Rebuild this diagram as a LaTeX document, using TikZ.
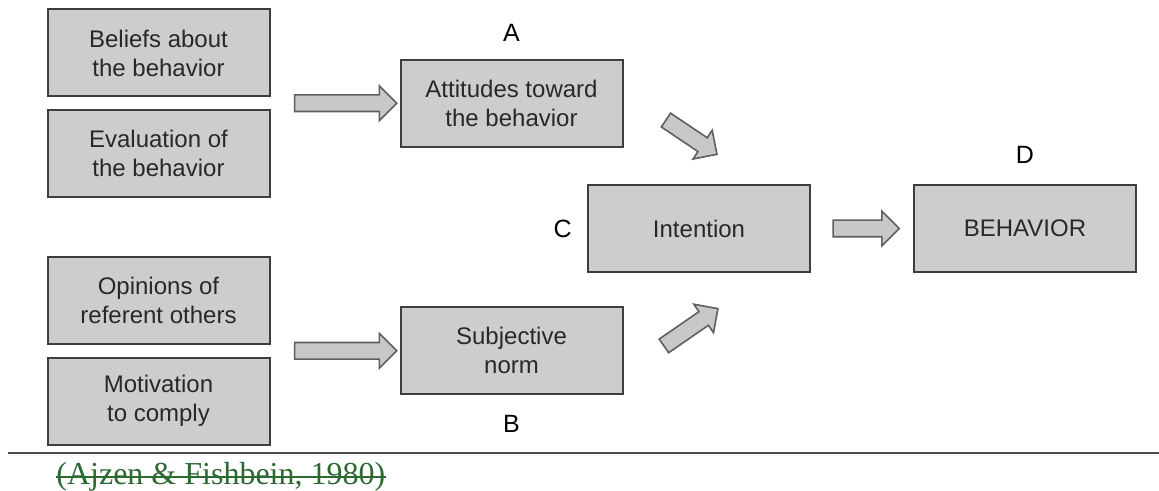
\documentclass[tikz,border=0pt]{standalone}
\usepackage{fontspec}
\setmainfont{Liberation Sans}
\newfontfamily\citefont{Liberation Serif}
\usetikzlibrary{positioning,calc,shapes.arrows}
\definecolor{boxfill}{RGB}{205,205,207}
\definecolor{boxline}{RGB}{62,62,62}
\definecolor{arrowfill}{RGB}{200,200,201}
\definecolor{arrowline}{RGB}{95,95,95}
\definecolor{textgray}{RGB}{40,40,40}
\definecolor{citegreen}{RGB}{45,105,50}
\tikzset{main node/.style={rectangle,fill=boxfill,draw=boxline,line width=1pt,minimum width=111pt,minimum height=43.5pt,align=center,text=textgray,font=\fontsize{12}{14.5}\selectfont,inner sep=0pt},
            letter node/.style={inner sep=0pt,font=\fontsize{12.5}{15}\selectfont,text=black},
            arrow node/.style={single arrow,fill=arrowfill,draw=arrowline,line width=0.8pt,inner sep=3.75pt,single arrow head extend=4.5pt,single arrow tip angle=90},
            }

\begin{document}
\begin{tikzpicture}[x=0.5pt,y=-0.5pt]
    \useasboundingbox (0,0) rectangle (1159,491);
    \node[main node] (1) at (158.5,53) {Beliefs about\\the behavior};
    \node[main node] (2) [below =5.75pt of 1] {Evaluation of\\the behavior};
    \node[main node] (3) [below =29pt of 2] {Opinions of\\referent others};
    \node[main node] (4) [below =5.75pt of 3] {Motivation\\to comply};
    \coordinate (m1) at ($(1.east)!0.5!(2.east)$);
    \coordinate (m2) at ($(3.east)!0.5!(4.east)$);
    \node[main node] (5) [right =64.5pt of m1] {Attitudes toward\\the behavior};
    \node[main node] (6) [right =64.5pt of m2] {Subjective\\norm};
    \coordinate (m3) at ($(5)!0.5!(6)$);
    \node[main node] (7) at ($(m3)+(93.75pt,-0.75pt)$) {Intention};
    \node[main node] (8) [right =51pt of 7] {BEHAVIOR};

    \node[letter node] (A) [above =8.5pt of 5] {A};
    \node[letter node] (B) [below =10pt of 6] {B};
    \node[letter node] (C) [left =7.5pt of 7] {C};
    \node[letter node] (D) [above =10pt of 8] {D};

    \coordinate (t1) at ($(m1)+(10pt,0)$);
    \coordinate (h1) at ($(5.west)+(-3.5pt,0)$);
    \coordinate (t2) at ($(m2)+(10pt,0)$);
    \coordinate (h2) at ($(6.west)+(-3.5pt,0)$);
    \coordinate (t3) at ($(5.east)+(19.5pt,-7.25pt)$);
    \coordinate (h3) at ($(7.north)+(7.25pt,16pt)$);
    \coordinate (t4) at ($(6.east)+(18.5pt,1.25pt)$);
    \coordinate (h4) at ($(7.south)+(7.75pt,-19pt)$);
    \coordinate (t5) at ($(7.east)+(9pt,0)$);
    \coordinate (h5) at ($(8.west)+(-9pt,0)$);
    \foreach \tailpt/\headpt in {t1/h1,t2/h2,t3/h3,t4/h4,t5/h5}
        \path let \p1=($(\headpt)-(\tailpt)$), \n1={veclen(\x1,\y1)} in
            (\tailpt) -- (\headpt) node[arrow node,midway,sloped,minimum height=\n1] {};

    \coordinate (l1) at (8,453);
    \coordinate (l2) at (1159,453);
    \draw[line width=1pt,draw=gray!60!black] (l1) -- (l2);
    \node[anchor=base west,inner sep=0pt,text=citegreen,font=\citefont\fontsize{16}{18}\selectfont] (cite) at (56,484) {(Ajzen \& Fishbein, 1980)};
    \draw[citegreen,line width=1.1pt] ($(cite.base west)+(0,3.6pt)$) -- ($(cite.base east)+(0,3.6pt)$);
    %%
\end{tikzpicture}
\end{document}
